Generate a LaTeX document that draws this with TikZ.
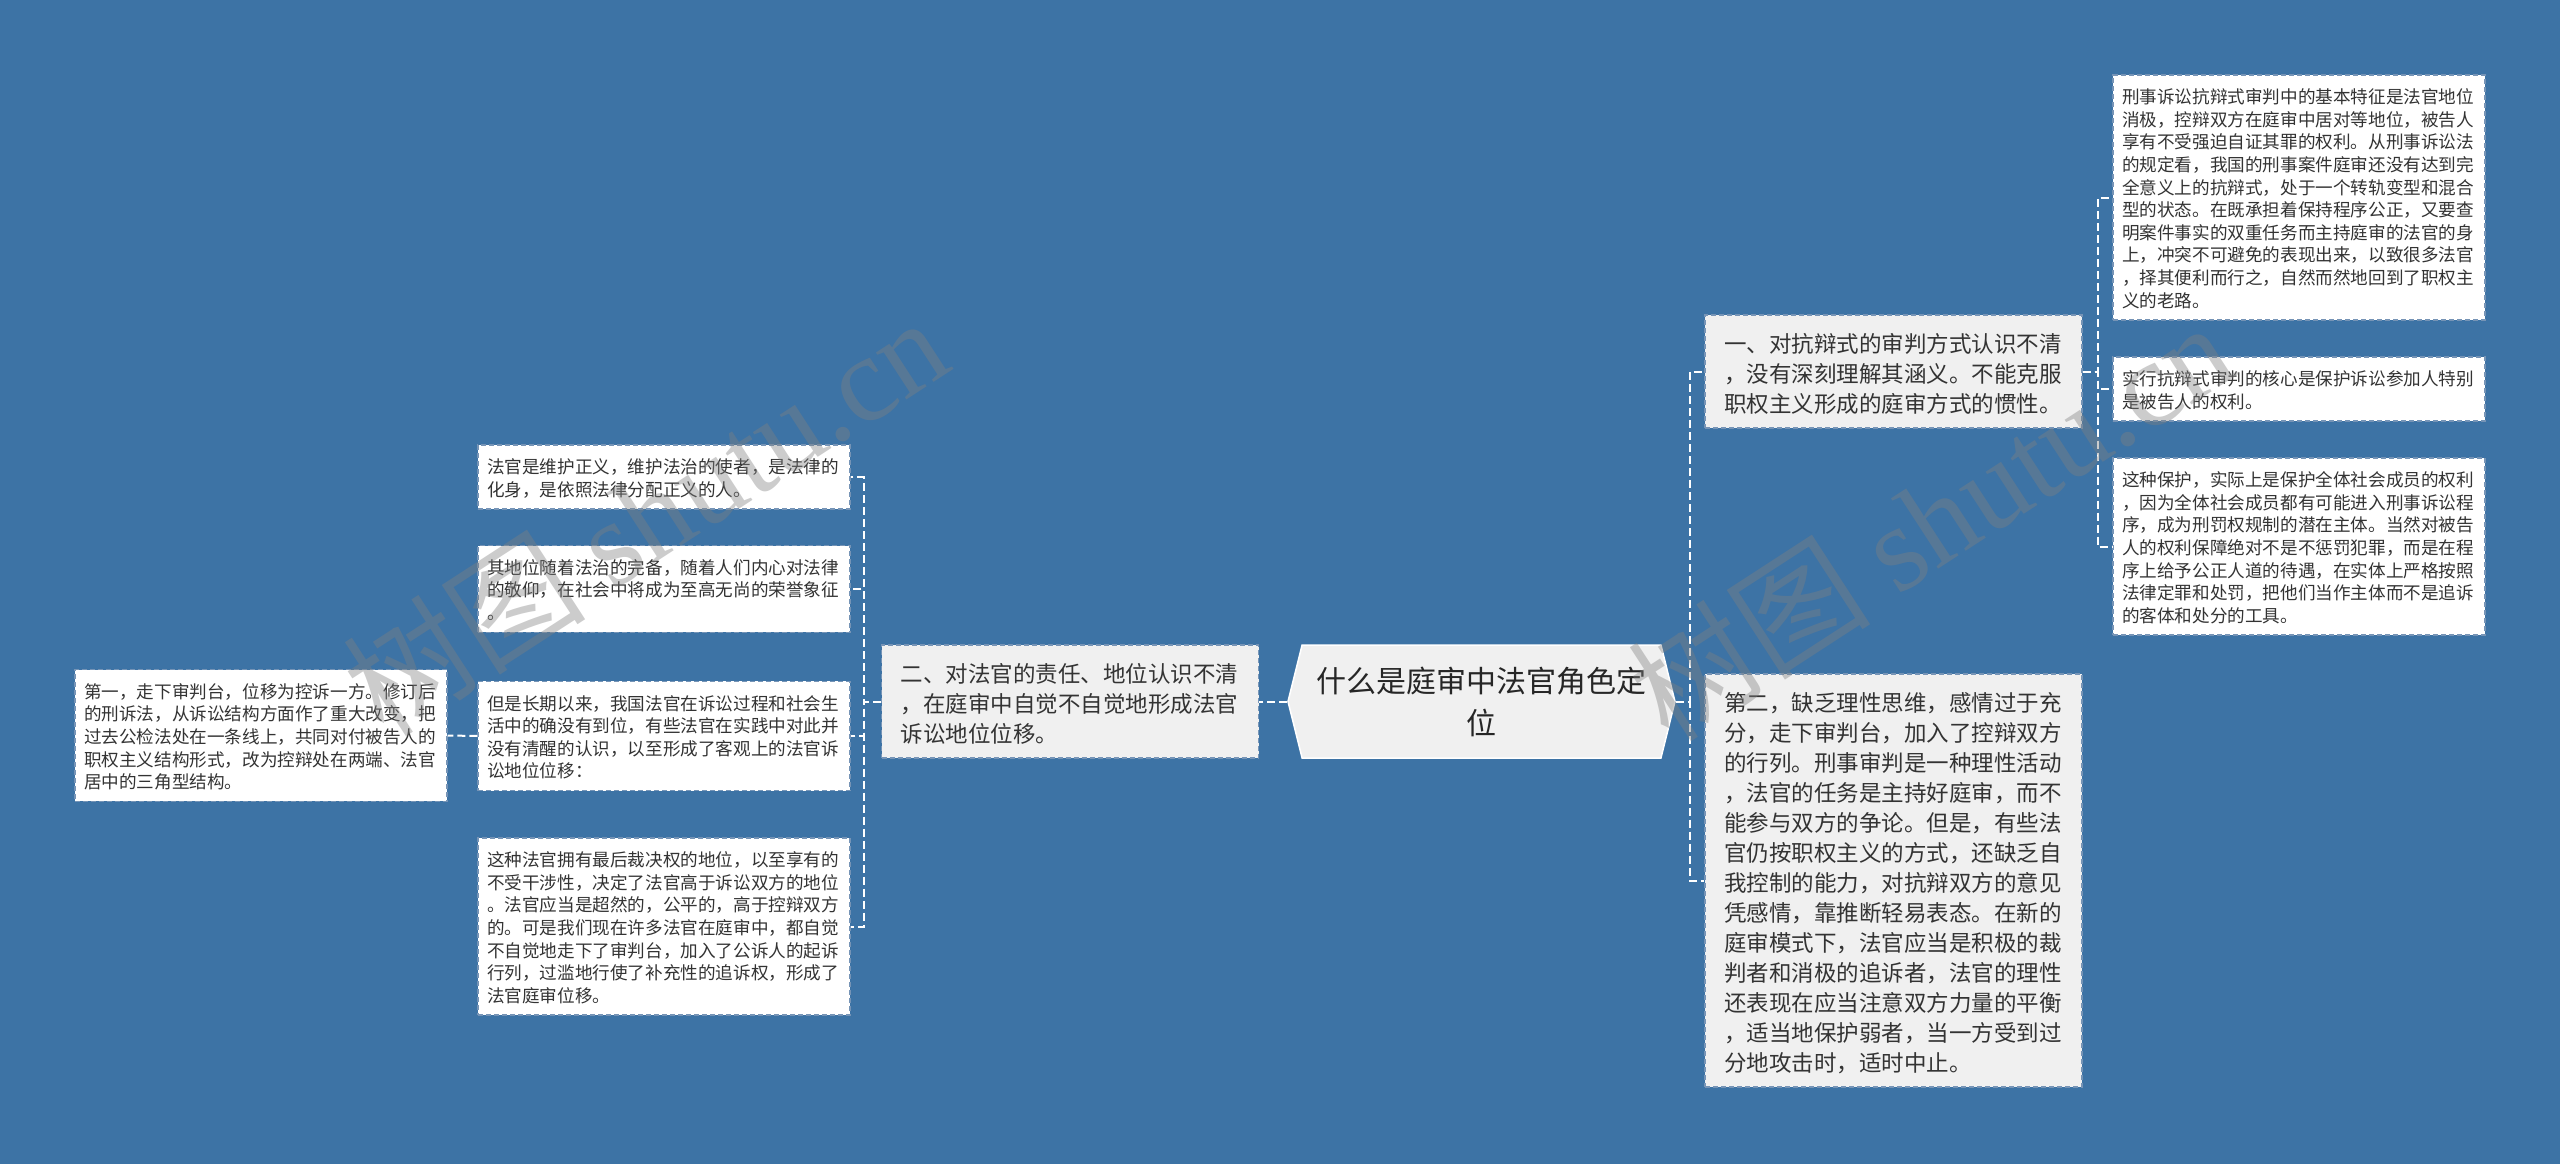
\documentclass[tikz,border=0pt]{standalone}
\usepackage{fontspec}
\setmainfont{Noto Sans CJK SC}
\newfontfamily\wmlatin{Liberation Serif}
\usetikzlibrary{shapes.symbols}
\definecolor{mapblue}{RGB}{61,115,165}
\definecolor{boxline}{RGB}{118,148,182}
\definecolor{paleface}{RGB}{240,240,240}
\definecolor{inkgray}{RGB}{51,51,51}
\newcommand{\boxstrut}{\rule[-0.15\baselineskip]{0pt}{\baselineskip}}
\begin{document}
\begin{tikzpicture}[x=1pt,y=-1pt,
    link/.style={draw=white,line width=2pt,dash pattern=on 8pt off 4pt},
    leafbox/.style={draw=boxline,dash pattern=on 5pt off 3pt,line width=1.3pt,fill=white,
        text=inkgray,font=\fontsize{17.6}{22.6}\selectfont,text width=354pt,
        inner xsep=9pt,inner ysep=9.4pt,align=left,
        execute at begin node=\boxstrut,execute at end node=\boxstrut},
    branchbox/.style={leafbox,fill=paleface,font=\fontsize{22.5}{30}\selectfont,
        text width=339pt,inner xsep=19pt,inner ysep=11.5pt},
    rootbox/.style={shape=signal,signal to=east and west,signal pointer angle=152,
        fill=paleface,draw=white,line width=1.5pt,text=black!85,
        font=\fontsize{30}{42}\selectfont,text width=330pt,align=center,
        minimum width=387pt,minimum height=113pt,inner sep=0pt},
    watermark/.style={text=gray,text opacity=0.4,font=\fontsize{122}{122}\selectfont}]
    \useasboundingbox (0,0) rectangle (2560,1164);
    \fill[mapblue] (0,0) rectangle (2560,1164);

    %% centre
    \node[rootbox] (root) at (1481.5,701.5) {什么是庭审中法官角色定\\位};

    %% right branches
    \node[branchbox] (one) at (1893.5,371.5) {一、对抗辩式的审判方式认识不清\\
        ，没有深刻理解其涵义。不能克服\\
        职权主义形成的庭审方式的惯性。};
    \node[branchbox] (two) at (1893.5,880.5) {第二，缺乏理性思维，感情过于充\\
        分，走下审判台，加入了控辩双方\\
        的行列。刑事审判是一种理性活动\\
        ，法官的任务是主持好庭审，而不\\
        能参与双方的争论。但是，有些法\\
        官仍按职权主义的方式，还缺乏自\\
        我控制的能力，对抗辩双方的意见\\
        凭感情，靠推断轻易表态。在新的\\
        庭审模式下，法官应当是积极的裁\\
        判者和消极的追诉者，法官的理性\\
        还表现在应当注意双方力量的平衡\\
        ，适当地保护弱者，当一方受到过\\
        分地攻击时，适时中止。};
    \node[leafbox] (r1) at (2299,197.5) {刑事诉讼抗辩式审判中的基本特征是法官地位\\
        消极，控辩双方在庭审中居对等地位，被告人\\
        享有不受强迫自证其罪的权利。从刑事诉讼法\\
        的规定看，我国的刑事案件庭审还没有达到完\\
        全意义上的抗辩式，处于一个转轨变型和混合\\
        型的状态。在既承担着保持程序公正，又要查\\
        明案件事实的双重任务而主持庭审的法官的身\\
        上，冲突不可避免的表现出来，以致很多法官\\
        ，择其便利而行之，自然而然地回到了职权主\\
        义的老路。};
    \node[leafbox] (r2) at (2299,389) {实行抗辩式审判的核心是保护诉讼参加人特别\\
        是被告人的权利。};
    \node[leafbox] (r3) at (2299,546.5) {这种保护，实际上是保护全体社会成员的权利\\
        ，因为全体社会成员都有可能进入刑事诉讼程\\
        序，成为刑罚权规制的潜在主体。当然对被告\\
        人的权利保障绝对不是不惩罚犯罪，而是在程\\
        序上给予公正人道的待遇，在实体上严格按照\\
        法律定罪和处罚，把他们当作主体而不是追诉\\
        的客体和处分的工具。};

    %% left branch
    \node[branchbox] (three) at (1070,701.5) {二、对法官的责任、地位认识不清\\
        ，在庭审中自觉不自觉地形成法官\\
        诉讼地位位移。};
    \node[leafbox] (l1) at (664,477) {法官是维护正义，维护法治的使者，是法律的\\
        化身，是依照法律分配正义的人。};
    \node[leafbox] (l2) at (664,589) {其地位随着法治的完备，随着人们内心对法律\\
        的敬仰，在社会中将成为至高无尚的荣誉象征\\
        。};
    \node[leafbox] (l3) at (664,736) {但是长期以来，我国法官在诉讼过程和社会生\\
        活中的确没有到位，有些法官在实践中对此并\\
        没有清醒的认识，以至形成了客观上的法官诉\\
        讼地位位移：};
    \node[leafbox] (l4) at (664,926.5) {这种法官拥有最后裁决权的地位，以至享有的\\
        不受干涉性，决定了法官高于诉讼双方的地位\\
        。法官应当是超然的，公平的，高于控辩双方\\
        的。可是我们现在许多法官在庭审中，都自觉\\
        不自觉地走下了审判台，加入了公诉人的起诉\\
        行列，过滥地行使了补充性的追诉权，形成了\\
        法官庭审位移。};
    \node[leafbox] (l3a) at (261,735.5) {第一，走下审判台，位移为控诉一方。修订后\\
        的刑诉法，从诉讼结构方面作了重大改变，把\\
        过去公检法处在一条线上，共同对付被告人的\\
        职权主义结构形式，改为控辩处在两端、法官\\
        居中的三角型结构。};

    %% connectors
    \foreach \b in {one,two}
        \draw[link] (root.east) -- ++(14,0) |- (\b.west);
    \foreach \c in {r1,r2,r3}
        \draw[link] (one.east) -- ++(15,0) |- (\c.west);
    \draw[link] (root.west) -- (three.east);
    \foreach \c in {l1,l2,l3,l4}
        \draw[link] (three.west) -- ++(-17,0) |- (\c.east);
    \draw[link] (l3.west) -- (l3a.east);

    %% watermarks
    \node[watermark,rotate=33] (wmleft) at (645,515) {树图 {\wmlatin shutu.cn}};
    \node[watermark,rotate=33] (wmright) at (1930,520) {树图 {\wmlatin shutu.cn}};
\end{tikzpicture}
\end{document}
